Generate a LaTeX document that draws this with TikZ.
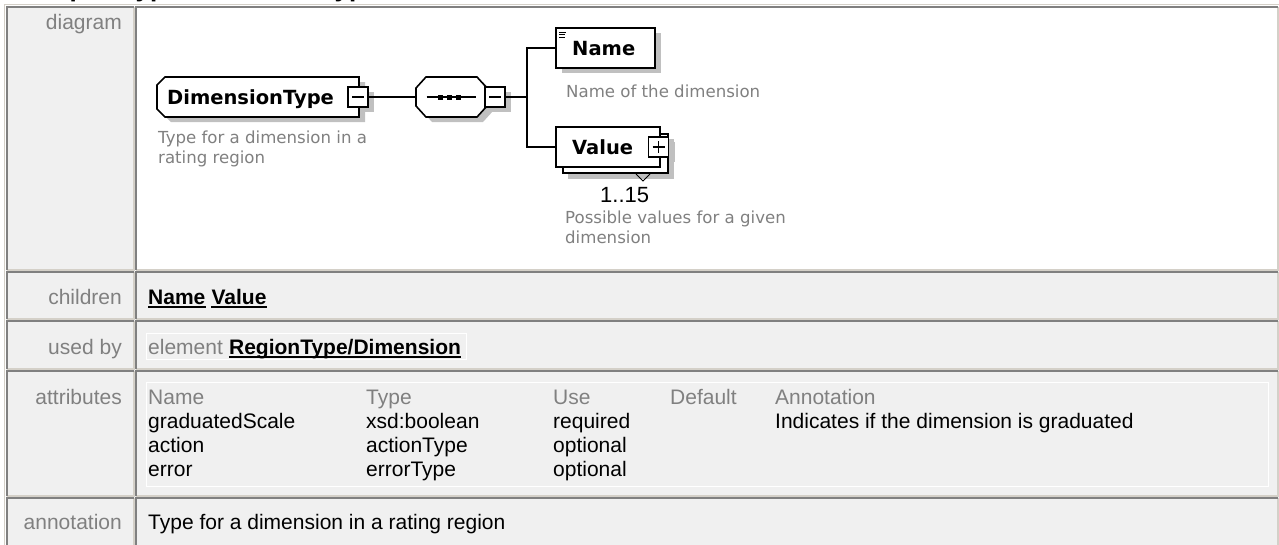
\documentclass[tikz,border=0pt]{standalone}
\usepackage{fontspec}
\setmainfont{Liberation Sans}
\newfontfamily\diagfont{DejaVu Sans}
\usetikzlibrary{calc}

\newcommand\tabfont{\fontsize{21pt}{25pt}\selectfont}
\newcommand\boxfont{\diagfont\bfseries\fontsize{19.5pt}{22pt}\selectfont}
\newcommand\notefont{\diagfont\fontsize{16.6pt}{20pt}\selectfont}

\definecolor{cellbg}{RGB}{240,240,240}
\definecolor{edgedark}{RGB}{128,128,128}
\definecolor{edgelight}{RGB}{212,208,200}
\definecolor{labelgray}{RGB}{128,128,128}
\definecolor{shadowgray}{RGB}{192,192,192}
\definecolor{notegray}{RGB}{128,128,128}

% one table cell: background plus inset edges (dark top/left, light bottom/right)
\newcommand\tablecell[5]{%
  \fill[#5] (#1,#2) rectangle (#3,#4);
  \draw[edgelight,line width=2pt] (#1+1,#4-1) -- (#3-1,#4-1) -- (#3-1,#2+1);
  \draw[edgedark,line width=2pt] (#1+1,#4-1) -- (#1+1,#2+1) -- (#3-1,#2+1);
}

\tikzset{
  rowlabel/.style={anchor=base east, inner sep=0, text=labelgray, font=\tabfont},
  celltext/.style={anchor=base west, inner sep=0, font=\tabfont},
  colhead/.style={celltext, text=labelgray},
  linktext/.style={celltext, font=\tabfont\bfseries},
  linkrule/.style={line width=1.6pt},
  castshade/.style={fill=shadowgray},
  shapeline/.style={draw=black, fill=white, line width=1.6pt},
  wire/.style={draw=black, line width=1.5pt},
  toggle/.style={draw=black, fill=white, line width=1.3pt, minimum size=20pt, inner sep=0},
  togglemark/.style={line width=1.3pt},
  elembox/.style={draw=black, fill=white, line width=1.6pt, minimum width=#1, minimum height=40pt, inner sep=0},
  holder/.style={minimum width=#1, minimum height=40pt, inner sep=0},
  boxtext/.style={anchor=base west, inner sep=0, font=\boxfont},
  note/.style={anchor=base west, inner sep=0, font=\notefont, text=notegray},
}

\begin{document}
\begin{tikzpicture}[x=1pt,y=-1pt]
\useasboundingbox (0,0) rectangle (1279,544);
\clip (0,0) rectangle (1279,544);

% page heading, almost entirely above the visible area
\node[anchor=base west, inner sep=0, font=\bfseries\fontsize{26pt}{30pt}\selectfont] (title) at (16,-3.5) {complexType DimensionType};

% outer frame of the table
\draw[edgelight, line width=1.4pt] (4.5,560) -- (4.5,4.5) -- (1279,4.5);

% table cells
\tablecell{6}{5.5}{135}{271}{cellbg}
\tablecell{135}{5.5}{1279}{271}{white}
\tablecell{6}{271}{135}{320}{cellbg}
\tablecell{135}{271}{1279}{320}{cellbg}
\tablecell{6}{320}{135}{370}{cellbg}
\tablecell{135}{320}{1279}{370}{cellbg}
\tablecell{6}{370}{135}{497}{cellbg}
\tablecell{135}{370}{1279}{497}{cellbg}
\tablecell{6}{497}{135}{560}{cellbg}
\tablecell{135}{497}{1279}{560}{cellbg}

% ---------------- diagram ----------------
% shadows
\fill[castshade] (163,90) -- (171,82) -- (365,82) -- (365,122) -- (171,122) -- (163,114) -- cycle;
\fill[castshade] (354,92) rectangle (374,112);
\fill[castshade] (422,93) -- (432,82) -- (483,82) -- (493,93) -- (493,111) -- (483,122) -- (432,122) -- (422,111) -- cycle;
\fill[castshade] (491,92) rectangle (511,112);
\fill[castshade] (562,33) rectangle (661,73);
\fill[castshade] (568,139) rectangle (674,179);
\fill[castshade] (654.5,142) rectangle (674.5,162);

% complex type box
\draw[shapeline] (157,85) -- (165,77) -- (359,77) -- (359,117) -- (165,117) -- (157,109) -- cycle;
\node[boxtext] (dt) at (167,104) {DimensionType};
\node[toggle] (dtm) at (358,97) {};
\draw[togglemark] ($(dtm.center)+(-6,0)$) -- ($(dtm.center)+(6,0)$);

% sequence compositor
\draw[shapeline] (416,88) -- (426,77) -- (477,77) -- (487,88) -- (487,106) -- (477,117) -- (426,117) -- (416,106) -- cycle;
\node[holder=71] (seq) at (451.5,97) {};
\draw[wire] ($(seq.center)+(-25,0)$) -- ($(seq.center)+(24,0)$);
\fill (437.5,94.5) rectangle (442.5,99.5);
\fill (446.5,94.5) rectangle (451.5,99.5);
\fill (455.5,94.5) rectangle (460.5,99.5);
\node[toggle] (seqm) at (495,97) {};
\draw[togglemark] ($(seqm.center)+(-6,0)$) -- ($(seqm.center)+(6,0)$);

% element Name
\node[elembox=99] (nm) at (605.5,48) {};
\draw[line width=1pt] (559,32) -- (566,32) (559,34.5) -- (565,34.5) (559,37) -- (565,37);
\node[boxtext] (nmt) at (572,55) {Name};

% element Value (repeating)
\draw[shapeline] (563,134) rectangle (668,173);
\node[elembox=104] (val) at (608,147) {};
\node[boxtext] (valt) at (572,154) {Value};
\node[toggle] (valp) at (658.5,147) {};
\draw[togglemark] ($(valp.center)+(-6,0)$) -- ($(valp.center)+(6,0)$);
\draw[togglemark] ($(valp.center)+(0,-6)$) -- ($(valp.center)+(0,6)$);
\draw[line width=0.9pt] (636,174) -- (643,181) -- (650,174);

% connectors
\coordinate (jn) at (527,97);
\draw[wire] (dtm.east) -- (seq.west);
\draw[wire] (seqm.east) -- (jn);
\draw[wire] (jn) |- (nm.west);
\draw[wire] (jn) |- (val.west);

% annotations under the boxes
\node[note] (dtnote1) at (158,143) {Type for a dimension in a};
\node[note] (dtnote2) at (158,163) {rating region};
\node[note] (nmnote) at (566,97) {Name of the dimension};
\node[anchor=base west, inner sep=0, font=\fontsize{22pt}{26pt}\selectfont] (valocc) at (600,202) {1..15};
\node[note] (valnote1) at (565,223) {Possible values for a given};
\node[note] (valnote2) at (565,243) {dimension};

% ---------------- table text ----------------
\node[rowlabel] (ldiagram) at (122,29) {diagram};

\node[rowlabel] (lchildren) at (122,304) {children};
\node[linktext] (cname) at (148,304) {Name};
\node[linktext] (cvalue) at ($(cname.base east)+(5.8,0)$) {Value};
\draw[linkrule] ($(cname.base west)+(0,3)$) -- ($(cname.base east)+(0,3)$);
\draw[linkrule] ($(cvalue.base west)+(0,3)$) -- ($(cvalue.base east)+(0,3)$);

\node[rowlabel] (lusedby) at (122,354) {used by};
\draw[white, line width=0.8pt] (146,333) rectangle (466,359);
\node[colhead] (uelem) at (148,354) {element};
\node[linktext] (uref) at ($(uelem.base east)+(5.8,0)$) {RegionType/Dimension};
\draw[linkrule] ($(uref.base west)+(0,3)$) -- ($(uref.base east)+(0,3)$);

\node[rowlabel] (lattr) at (122,404) {attributes};
\draw[white, line width=0.6pt] (146,382) rectangle (1268,486);
\node[colhead] (hname) at (148,404) {Name};
\node[colhead] (htype) at (366,404) {Type};
\node[colhead] (huse) at (553,404) {Use};
\node[colhead] (hdef) at (670,404) {Default};
\node[colhead] (hann) at (775,404) {Annotation};

\node[celltext] (a1name) at (148,428) {graduatedScale};
\node[celltext] (a1type) at (366,428) {xsd:boolean};
\node[celltext] (a1use) at (553,428) {required};
\node[celltext] (a1ann) at (775,428) {Indicates if the dimension is graduated};

\node[celltext] (a2name) at (148,452) {action};
\node[celltext] (a2type) at (366,452) {actionType};
\node[celltext] (a2use) at (553,452) {optional};

\node[celltext] (a3name) at (148,476) {error};
\node[celltext] (a3type) at (366,476) {errorType};
\node[celltext] (a3use) at (553,476) {optional};

\node[rowlabel] (lannot) at (122,529) {annotation};
\node[celltext] (annot) at (148,529) {Type for a dimension in a rating region};
\end{tikzpicture}
\end{document}
